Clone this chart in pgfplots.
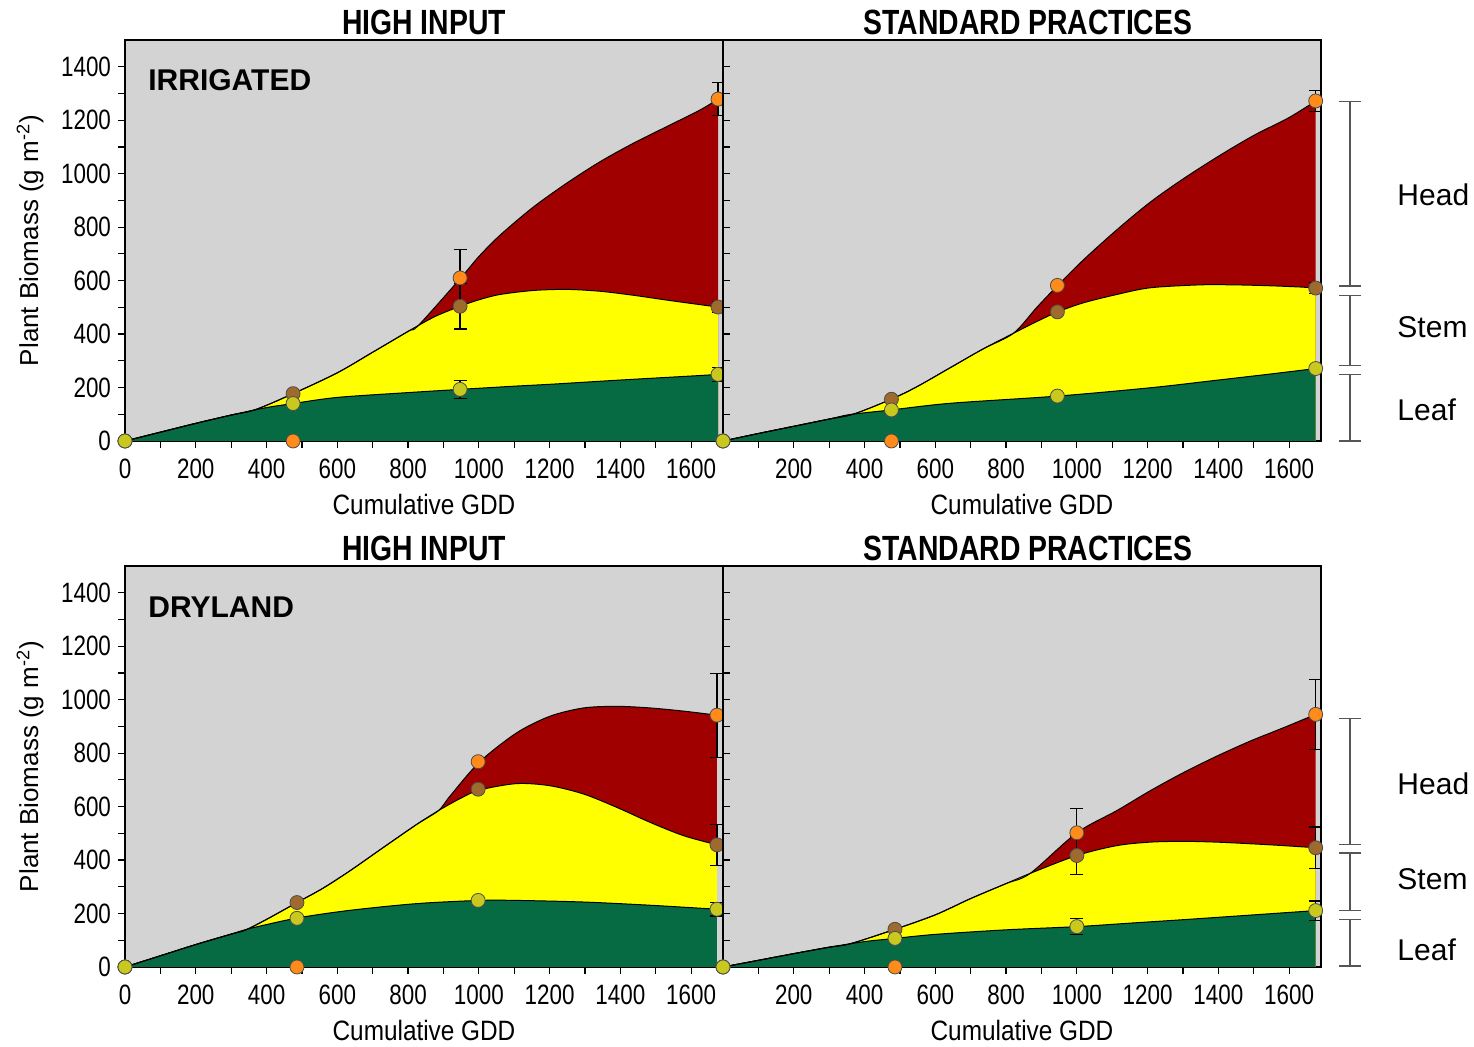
\documentclass[border=0pt]{standalone}
\usepackage{fontspec}
\setmainfont{Liberation Sans}
\newfontfamily\narrowfont{Liberation Sans}[FakeStretch=0.80]
\newfontfamily\labelfont{Liberation Sans}[FakeStretch=0.87]
\newfontfamily\titlefont{Liberation Sans}[FakeStretch=0.81]
\usepackage{pgfplots}
\pgfplotsset{compat=1.18}
\usepackage{pgfplotstable}

\definecolor{bggray}{RGB}{211,211,211}
\definecolor{headred}{RGB}{160,0,0}
\definecolor{stemyel}{RGB}{255,255,0}
\definecolor{leafgrn}{RGB}{6,107,67}
\definecolor{mkorange}{RGB}{255,140,26}
\definecolor{mkbrown}{RGB}{158,106,46}
\definecolor{mkleaf}{RGB}{200,200,30}
\definecolor{brk}{RGB}{85,85,85}

% ---------------- top-left (irrigated, high input)
\pgfplotstableread{
x y
0 0
100 33
200 66
300 97
400 125
475 140
600 163
800 181
947 193
1100 205
1200 212
1400 228
1600 243
1676 249
}\TLleaf
\pgfplotstableread{
x y
0 0
100 33
200 66
300 97
370 118
475 177
600 255
700 332
800 410
829 432
880 468
947 504
1000 528
1060 548
1154 563
1249 567
1343 560
1437 545
1531 527
1625 510
1676 501
}\TLstem
\pgfplotstableread{
x y
0 0
100 33
200 66
300 97
370 118
475 177
600 255
700 332
800 410
829 432
947 607
1000 690
1060 770
1154 875
1249 965
1343 1045
1437 1114
1531 1176
1625 1238
1676 1279
}\TLhead
\pgfplotstableread{
x leaf stem head
0 0 0 0
475 140 177 0
947 193 504 610
1676 249 501 1279
}\TLpts
\pgfplotstableread{
x y e
947 193 33
947 504 85
947 610 105
1676 249 25
1676 501 20
1676 1279 62
}\TLerr

% ---------------- top-right (irrigated, standard practices)
\pgfplotstableread{
x y
0 0
100 28
200 55
300 82
359 99
475 116
642 141
946 168
1207 199
1400 228
1550 251
1675 271
}\TRleaf
\pgfplotstableread{
x y
0 0
100 28
200 55
300 82
370 101
475 156
548 203
642 274
736 345
821 403
887 447
946 483
1019 517
1113 548
1207 573
1348 584
1443 584
1537 581
1631 576
1675 572
}\TRstem
\pgfplotstableread{
x y
0 0
100 28
200 55
300 82
370 101
475 156
548 203
642 274
736 345
821 403
887 500
946 582
1019 678
1113 790
1207 893
1300 980
1400 1065
1500 1143
1600 1210
1675 1272
}\TRhead
\pgfplotstableread{
x leaf stem head
0 0 0 0
476 116 156 0
945 168 483 582
1675 271 572 1272
}\TRpts
\pgfplotstableread{
x y e
1675 572 20
1675 1272 39
}\TRerr

% ---------------- bottom-left (dryland, high input)
\pgfplotstableread{
x y
0 0
100 42
200 84
300 123
353 144
486 183
636 212
824 237
1002 249
1107 249
1296 243
1484 231
1673 216
}\BLleaf
\pgfplotstableread{
x y
0 0
100 42
200 84
300 123
340 138
400 178
486 241
560 295
636 360
730 447
824 533
886 585
950 632
1002 662
1107 686
1201 678
1296 647
1390 597
1484 541
1579 491
1673 457
}\BLstem
\pgfplotstableread{
x y
0 0
100 42
200 84
300 123
340 138
400 178
486 241
560 295
636 360
730 447
824 533
886 585
919 640
1002 767
1107 876
1201 938
1296 969
1390 975
1484 969
1579 957
1673 942
}\BLhead
\pgfplotstableread{
x leaf stem head
0 0 0 0
486 182 241 0
998 249 665 768
1673 216 457 942
}\BLpts
\pgfplotstableread{
x y e
1673 216 25
1673 457 76
1673 942 157
}\BLerr

% ---------------- bottom-right (dryland, standard practices)
\pgfplotstableread{
x y
0 0
100 25
200 50
300 74
400 95
486 107
600 122
800 139
1000 151
1150 164
1301 177
1500 195
1675 211
}\BRleaf
\pgfplotstableread{
x y
0 0
100 25
200 50
300 74
360 87
486 141
600 195
700 256
800 312
868 350
1000 417
1113 454
1207 467
1301 470
1396 467
1490 461
1584 454
1675 446
}\BRstem
\pgfplotstableread{
x y
0 0
100 25
200 50
300 74
360 87
486 141
600 195
700 256
800 312
868 350
1000 502
1113 585
1207 659
1301 727
1396 789
1490 845
1584 895
1675 945
}\BRhead
\pgfplotstableread{
x leaf stem head
0 0 0 0
486 107 141 0
1000 151 417 502
1675 211 446 945
}\BRpts
\pgfplotstableread{
x y e
1000 151 29
1000 417 72
1000 502 91
1675 211 36
1675 446 78
1675 945 130
}\BRerr

\pgfplotsset{
  panel/.style={
    scale only axis, width=299pt, height=200.5pt,
    anchor=south west,
    xmin=0, xmax=1690, ymin=0, ymax=1500,
    axis background/.style={fill=bggray},
    axis line style={black, line width=0.6pt},
    tick align=outside, major tick length=3.5pt, minor tick length=3.5pt,
    tick style={black, line width=0.6pt},
    xtick pos=bottom, ytick pos=left,
    ytick={0,200,...,1400}, minor ytick={100,300,...,1300},
    ticklabel style={font=\narrowfont\fontsize{14}{14}\selectfont},
    xticklabel style={yshift=-2pt},
    /pgf/number format/assume math mode=true,
    /pgf/number format/1000 sep={},
    clip=false,
  },
  leftpanel/.style={panel,
    xtick={0,200,...,1600}, minor xtick={100,300,...,1500},
  },
  rightpanel/.style={panel,
    xtick={200,400,...,1600}, minor xtick={100,300,...,1500},
    yticklabels={},
    every major y tick/.append style={xshift=3.5pt},
    every minor y tick/.append style={xshift=3.5pt},
  },
  bracket/.style={brk, line width=0.75pt, mark=-, mark size=5.5pt, mark options={solid, line width=0.75pt}},
}

\newcommand\areas[3]{%
  \addplot[draw=none, fill=headred, smooth] table {#3} \closedcycle;
  \addplot[draw=none, fill=stemyel, smooth] table {#2} \closedcycle;
  \addplot[draw=none, fill=leafgrn, smooth] table {#1} \closedcycle;
  \addplot[black, line width=0.5pt, smooth] table {#3};
  \addplot[black, line width=0.5pt, smooth] table {#2};
  \addplot[black, line width=0.5pt, smooth] table {#1};
}
\newcommand\points[2]{%
  \addplot[only marks, mark=none, error bars/.cd, y dir=both, y explicit,
     error bar style={black, line width=0.6pt},
     error mark options={black, line width=0.6pt, rotate=90, mark size=3.25pt}]
     table[x=x, y=y, y error=e] {#2};
  \addplot[only marks, mark=*, mark size=3.5pt, mark options={fill=mkorange, draw=black!70, line width=0.4pt}] table[x=x, y=head] {#1};
  \addplot[only marks, mark=*, mark size=3.5pt, mark options={fill=mkbrown, draw=black!70, line width=0.4pt}] table[x=x, y=stem] {#1};
  \addplot[only marks, mark=*, mark size=3.5pt, mark options={fill=mkleaf, draw=black!70, line width=0.4pt}] table[x=x, y=leaf] {#1};
}
\newcommand\ptitle[2][0pt]{\node[anchor=base, inner sep=0pt, font=\titlefont\bfseries\fontsize{17.5}{17.5}\selectfont] at ([xshift=#1, yshift=2.5pt]rel axis cs:0.5,1) {#2};}
\newcommand\pxlabel{\node[anchor=base, inner sep=0pt, font=\labelfont\fontsize{14}{14}\selectfont] at ([yshift=-37pt]rel axis cs:0.5,0) {Cumulative GDD};}
\newcommand\pylabel{\node[rotate=90, anchor=center, font=\fontsize{13}{13}\selectfont] at ([xshift=-47.5pt]rel axis cs:0,0.5) {Plant Biomass (g m\textsuperscript{-2})};}
\newcommand\ctext[3]{\node[anchor=west, inner sep=0pt, font=\fontsize{15}{15}\selectfont] at (axis cs:#1,#2) {#3};}

\begin{document}
\begin{tikzpicture}
\useasboundingbox (0,0) rectangle (737pt,523.5pt);

% top-left
\begin{axis}[leftpanel, at={(62.5pt,303pt)}]
  \areas{\TLleaf}{\TLstem}{\TLhead}
  \points{\TLpts}{\TLerr}
  \ptitle{HIGH INPUT}
  \pxlabel
  \pylabel
  \node[anchor=base west, inner sep=0pt, font=\bfseries\fontsize{15}{15}\selectfont] at ([xshift=11.5pt, yshift=-25.5pt]rel axis cs:0,1) {IRRIGATED};
\end{axis}

% top-right
\begin{axis}[rightpanel, at={(361.5pt,303pt)}]
  \areas{\TRleaf}{\TRstem}{\TRhead}
  \points{\TRpts}{\TRerr}
  \ptitle[3pt]{STANDARD PRACTICES}
  \pxlabel
  \addplot[bracket] coordinates {(1772,1270) (1772,580)};
  \addplot[bracket] coordinates {(1772,544) (1772,283)};
  \addplot[bracket] coordinates {(1772,248) (1772,0)};
  \ctext{1905}{920}{Head}
  \ctext{1905}{424}{Stem}
  \ctext{1905}{118}{Leaf}
\end{axis}

% bottom-left
\begin{axis}[leftpanel, at={(62.5pt,40pt)}]
  \areas{\BLleaf}{\BLstem}{\BLhead}
  \points{\BLpts}{\BLerr}
  \ptitle{HIGH INPUT}
  \pxlabel
  \pylabel
  \node[anchor=base west, inner sep=0pt, font=\bfseries\fontsize{15}{15}\selectfont] at ([xshift=11.5pt, yshift=-26pt]rel axis cs:0,1) {DRYLAND};
\end{axis}

% bottom-right
\begin{axis}[rightpanel, at={(361.5pt,40pt)}]
  \areas{\BRleaf}{\BRstem}{\BRhead}
  \points{\BRpts}{\BRerr}
  \ptitle[3pt]{STANDARD PRACTICES}
  \pxlabel
  \addplot[bracket] coordinates {(1772,929) (1772,458)};
  \addplot[bracket] coordinates {(1772,427) (1772,211)};
  \addplot[bracket] coordinates {(1772,178) (1772,4)};
  \ctext{1905}{684}{Head}
  \ctext{1905}{329}{Stem}
  \ctext{1905}{63}{Leaf}
\end{axis}
\end{tikzpicture}
\end{document}
